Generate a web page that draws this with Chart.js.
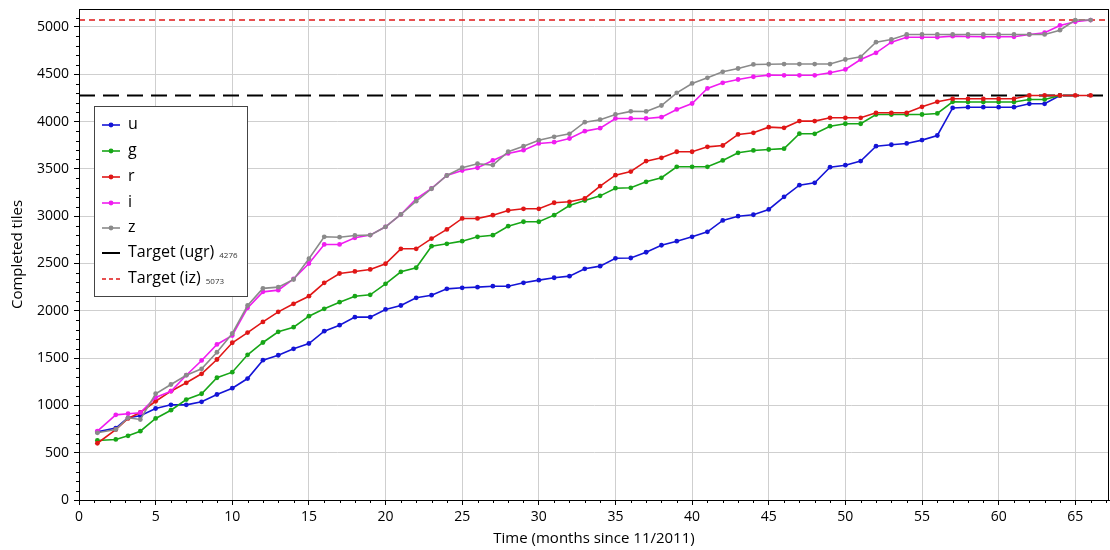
<!DOCTYPE html>
<html><head><meta charset="utf-8">
<script src="https://cdn.jsdelivr.net/npm/chart.js@4.4.0/dist/chart.umd.min.js"></script>
<style>html,body{margin:0;padding:0;background:#fff;} canvas{display:block;}</style>
</head><body>
<canvas id="c" width="1110" height="550"></canvas>
<script>
const MONTHS = [1.2,2.4,3.2,4,5,6,7,8,9,10,11,12,13,14,15,16,17,18,19,20,21,22,23,24,25,26,27,28,29,30,31,32,33,34,35,36,37,38,39,40,41,42,43,44,45,46,47,48,49,50,51,52,53,54,55,56,57,58,59,60,61,62,63,64,65,66];
const U = [720,760,869,890,967,1006,1006,1038,1115,1182,1284,1478,
  1530,1598,1654,1785,1848,1933,1933,2014,2056,2137,
  2165,2232,2243,2250,2260,2260,2296,2324,2349,2366,
  2444,2472,2555,2558,2619,2693,2736,2782,2835,2955,
  3000,3015,3071,3205,3328,3353,3518,3539,3582,3740,
  3755,3769,3804,3853,4144,4152,4152,4152,4152,4188,
  4188,4276];
const G = [629,640,678,727,862,949,1062,1123,1292,1351,1535,1665,
  1778,1827,1943,2021,2091,2154,2169,2285,2412,2455,
  2683,2708,2736,2782,2799,2894,2941,2941,3011,3113,
  3166,3215,3296,3300,3363,3406,3522,3522,3522,3589,
  3670,3695,3705,3714,3872,3871,3951,3977,3977,4075,
  4075,4075,4075,4086,4209,4207,4207,4207,4207,4234,
  4234,4276];
const R = [600,745,862,925,1044,1150,1239,1334,1485,1662,1770,1882,
  1989,2074,2154,2296,2394,2416,2437,2497,2655,2655,
  2763,2860,2976,2976,3011,3060,3078,3078,3142,3152,
  3187,3318,3434,3472,3582,3617,3681,3681,3733,3747,
  3864,3881,3941,3934,4005,4005,4040,4040,4040,4093,
  4093,4093,4156,4209,4241,4241,4241,4241,4241,4276,
  4276,4276,4276,4276];
const I = [727,900,912,922,1083,1150,1319,1475,1644,1739,2031,2200,
  2218,2338,2500,2701,2701,2772,2800,2888,3018,3184,
  3293,3430,3483,3512,3589,3663,3698,3769,3782,3821,
  3899,3930,4033,4033,4033,4047,4128,4191,4350,4410,
  4445,4474,4491,4489,4489,4489,4516,4551,4656,4727,
  4839,4892,4892,4892,4903,4900,4896,4896,4896,4921,
  4939,5016,5055,5073];
const Z = [710,745,869,851,1123,1221,1319,1387,1562,1760,2056,2237,
  2250,2331,2550,2782,2778,2796,2800,2888,3018,3159,
  3290,3430,3512,3554,3540,3681,3740,3803,3839,3871,
  3994,4020,4075,4108,4107,4170,4304,4403,4463,4526,
  4561,4604,4606,4608,4608,4608,4608,4656,4685,4839,
  4868,4921,4921,4921,4921,4921,4921,4921,4921,4921,
  4921,4966,5073,5073];
const TARGET_UGR = 4276;
const TARGET_IZ = 5073;
const X_TICKS = [0,5,10,15,20,25,30,35,40,45,50,55,60,65];
const Y_TICKS = [0,500,1000,1500,2000,2500,3000,3500,4000,4500,5000];
const SERIES_NAMES = ['u','g','r','i','z'];
const SERIES_COLORS = ['#1414d6','#17a617','#e01616','#f01cf0','#8a8a8a'];
const TARGET_LABELS = ['Target (ugr)','Target (iz)'];
const X_MAX = 67.2, Y_MAX = 5190;
const FONT = '"Open Sans", "Liberation Sans", sans-serif';

const seriesData = [U,G,R,I,Z];
function pts(arr){ return arr.map((v,i)=>({x:MONTHS[i], y:v})); }

const datasets = seriesData.map((arr,k)=>({
  label: SERIES_NAMES[k], data: pts(arr),
  borderColor: SERIES_COLORS[k], backgroundColor: SERIES_COLORS[k],
  borderWidth: 1.6, pointRadius: 2.4, pointBorderWidth: 0,
  pointBackgroundColor: SERIES_COLORS[k], tension: 0, order: 5-k
}));
datasets.push({label: TARGET_LABELS[0], data:[{x:0,y:TARGET_UGR},{x:X_MAX,y:TARGET_UGR}],
  borderColor:'#000', borderWidth:2, borderDash:[16,8], pointRadius:0, order:10});
datasets.push({label: TARGET_LABELS[1], data:[{x:0,y:TARGET_IZ},{x:X_MAX,y:TARGET_IZ}],
  borderColor:'#e01616', borderWidth:1.6, borderDash:[6,4], pointRadius:0, order:10});

const minorTicks = {
  id:'minorTicks',
  afterDraw(chart){
    const ctx = chart.ctx, a = chart.chartArea, xs = chart.scales.x, ys = chart.scales.y;
    ctx.save();
    ctx.strokeStyle = '#000'; ctx.lineWidth = 1;
    ctx.beginPath();
    for (let m = 1; m <= 67; m++) {
      if (m % 5 === 0) continue;
      const px = Math.round(xs.getPixelForValue(m)) + 0.5;
      ctx.moveTo(px, a.bottom); ctx.lineTo(px, a.bottom + 3);
    }
    for (let v = 100; v <= 5100; v += 100) {
      if (v % 500 === 0) continue;
      const py = Math.round(ys.getPixelForValue(v)) + 0.5;
      ctx.moveTo(a.left - 3, py); ctx.lineTo(a.left, py);
    }
    ctx.stroke();
    ctx.strokeRect(Math.round(a.left)+0.5, Math.round(a.top)+0.5, Math.round(a.right-a.left)-1, Math.round(a.bottom-a.top));
    // legend
    const bx = 94.5, by = 106.5, bw = 153, bh = 190;
    ctx.fillStyle = '#fff'; ctx.fillRect(bx, by, bw, bh);
    ctx.strokeStyle = '#444'; ctx.strokeRect(bx, by, bw, bh);
    const rowY = [125, 151, 177, 203, 228, 253, 279];
    ctx.textBaseline = 'middle'; ctx.textAlign = 'left';
    for (let k = 0; k < 5; k++) {
      const y = rowY[k];
      ctx.strokeStyle = SERIES_COLORS[k]; ctx.lineWidth = 1.6; ctx.setLineDash([]);
      ctx.beginPath(); ctx.moveTo(102, y); ctx.lineTo(120, y); ctx.stroke();
      ctx.fillStyle = SERIES_COLORS[k];
      ctx.beginPath(); ctx.arc(111, y, 2.4, 0, Math.PI*2); ctx.fill();
      ctx.fillStyle = '#000'; ctx.font = '16px ' + FONT;
      ctx.fillText(SERIES_NAMES[k], 128, y - 1);
    }
    const tcol = ['#000', '#e01616'], tdash = [[], [4,3]], tval = [TARGET_UGR, TARGET_IZ];
    for (let k = 0; k < 2; k++) {
      const y = rowY[5+k];
      ctx.strokeStyle = tcol[k]; ctx.lineWidth = k ? 1.6 : 2; ctx.setLineDash(tdash[k]);
      ctx.beginPath(); ctx.moveTo(102, y); ctx.lineTo(120, y); ctx.stroke();
      ctx.setLineDash([]);
      ctx.fillStyle = '#000'; ctx.font = '16px ' + FONT;
      ctx.fillText(TARGET_LABELS[k], 128, y - 1);
      const w = ctx.measureText(TARGET_LABELS[k]).width;
      ctx.font = '8px ' + FONT; ctx.fillStyle = '#333';
      ctx.fillText(String(tval[k]), 128 + w + 5, y + 3);
    }
    ctx.restore();
  }
};

new Chart(document.getElementById('c'), {
  type: 'line',
  data: { datasets },
  options: {
    responsive: false, devicePixelRatio: 1, animation: false,
    layout: { autoPadding: false, padding: { top: 9, right: 1, left: 0, bottom: 0 } },
    plugins: { legend: { display: false }, tooltip: { enabled: false } },
    scales: {
      x: {
        type: 'linear', min: 0, max: X_MAX,
        afterBuildTicks: s => { s.ticks = X_TICKS.map(v => ({ value: v })); },
        afterFit: s => { s.height = 50; s.paddingLeft = 0; s.paddingRight = 0; },
        ticks: { color: '#000', padding: 4, maxRotation: 0, autoSkip: false,
                 font: { family: FONT, size: 14 }, callback: v => String(v) },
        grid: { color: '#cfcfcf', tickColor: '#000', tickLength: 5, lineWidth: 1 },
        border: { color: '#000' },
        title: { display: true, text: 'Time (months since 11/2011)', color: '#000',
                 font: { family: FONT, size: 15 }, padding: { top: 2, bottom: 2 } }
      },
      y: {
        type: 'linear', min: 0, max: Y_MAX,
        afterBuildTicks: s => { s.ticks = Y_TICKS.map(v => ({ value: v })); },
        afterFit: s => { s.width = 79; s.paddingTop = 0; s.paddingBottom = 0; },
        ticks: { color: '#000', padding: 5, autoSkip: false, font: { family: FONT, size: 14 },
                 callback: v => String(v) },
        grid: { color: '#cfcfcf', tickColor: '#000', tickLength: 5, lineWidth: 1 },
        border: { color: '#000' },
        title: { display: true, text: 'Completed tiles', color: '#000',
                 font: { family: FONT, size: 15 }, padding: { top: 9, bottom: 0 } }
      }
    }
  },
  plugins: [minorTicks]
});
</script></body></html>
